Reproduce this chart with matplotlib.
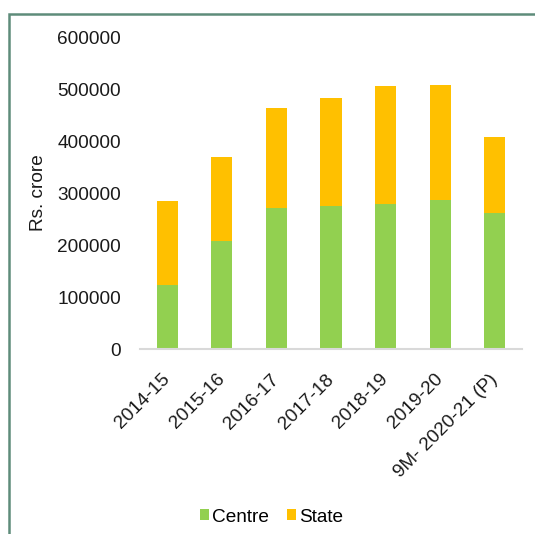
import matplotlib.pyplot as plt
from matplotlib.patches import Rectangle
import numpy as np

plt.rcParams['font.family'] = ['Liberation Sans', 'DejaVu Sans']

years = ["2014-15", "2015-16", "2016-17", "2017-18", "2018-19", "2019-20", "9M- 2020-21 (P)"]
centre = [124000, 207000, 272000, 274500, 279000, 286000, 262000]
state = [161000, 162000, 191000, 207500, 227000, 222000, 146000]

fig = plt.figure(figsize=(5.35, 5.34), dpi=100)
ax = fig.add_axes([140/535, 1-349/534, (522-140)/535, (349-37)/534])

x = np.arange(len(years))
ax.bar(x, centre, width=0.39, color="#92D050", label="Centre")
ax.bar(x, state, width=0.39, bottom=centre, color="#FFC000", label="State")

ax.set_xlim(-0.5, 6.5)
ax.set_ylim(0, 600000)
ax.set_yticks(range(0, 600001, 100000))
ax.tick_params(axis="y", length=0, pad=13.5, labelsize=13.7, colors="#1a1a1a")
ax.tick_params(axis="x", length=0, pad=20, labelsize=13.7, colors="#1a1a1a")
ax.set_xticks(x)
ax.set_xticklabels(years, rotation=45, ha="right", va="center", rotation_mode="anchor")
for s in ["top", "right", "left"]:
    ax.spines[s].set_visible(False)
ax.spines["bottom"].set_color("#D9D9D9")
ax.spines["bottom"].set_linewidth(1.5)
ax.set_ylabel("Rs. crore", fontsize=13.7, color="#1a1a1a")
ax.yaxis.set_label_coords(-(140-47)/382, 0.5)

fig.legend(loc="center", bbox_to_anchor=(271.5/535, 1-517/534), ncol=2, frameon=False,
           fontsize=13.7, handlelength=0.5, handleheight=0.5, handletextpad=0.15,
           columnspacing=0.95)

# outer frame (only left and top visible)
fig.patches.append(Rectangle((8.5/535, -0.1), 1.2, 1-13.5/534+0.1,
                             transform=fig.transFigure, fill=False,
                             edgecolor="#5E8C7A", linewidth=1.8))

fig.savefig("out.png", dpi=100)
